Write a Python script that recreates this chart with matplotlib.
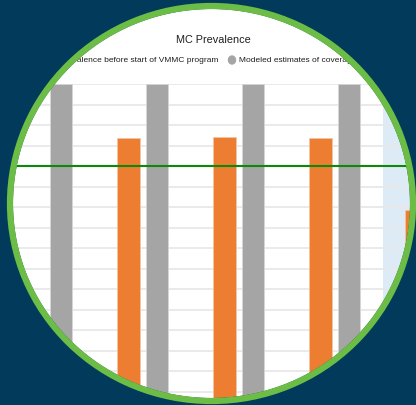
import numpy as np
import matplotlib
matplotlib.use("Agg")
import matplotlib.pyplot as plt
from matplotlib.patches import PathPatch, Ellipse
from matplotlib.path import Path

groups = ["A", "B", "C", "D", "E"]
mc_before_vmmc = [np.nan, 86.8, 87.1, 86.9, 69.3]
modeled_coverage = [100, 100, 100, 100, np.nan]
target = 80
shade_from = 3.5

title = "MC Prevalence"
legend_labels = ["MC prevalence before start of VMMC program",
                 "Modeled estimates of coverage in 2016"]

orange = "#ed7d31"
grey = "#a5a5a5"
navy = "#023a5c"
ring = "#6bbd46"

plt.rcParams['font.family'] = ['Liberation Sans', 'DejaVu Sans']

fig = plt.figure(figsize=(4.16, 4.06), dpi=100, facecolor="white")
W, H = 416, 406

# axes is larger than the visible area: the picture is a zoomed-in crop
ax = fig.add_axes([0, (H - 495) / H, 1, 410 / H])
x = np.arange(len(groups))
w = 0.234
off = 0.148
ax.bar(x - off, mc_before_vmmc, w, color=orange, edgecolor="#f6c2a0", linewidth=0.6, zorder=2)
ax.bar(x + off, modeled_coverage, w, color=grey, edgecolor="#d6d6d6", linewidth=0.6, zorder=2)
ax.axhline(target, color="#0a8a0a", lw=1.5, zorder=3)
ax.axvspan(shade_from, 10, color="#ddebf6", zorder=0.2, lw=0)

ax.set_xlim(-46.75 / 96, (W - 46.75) / 96)
ax.set_ylim(0, 100)
ax.set_yticks(np.arange(0, 101, 5))
ax.set_axisbelow(True)
ax.grid(axis="y", color="#e8e8e8", lw=1.3)
ax.tick_params(left=False, bottom=False, labelleft=False, labelbottom=False)
for s in ax.spines.values():
    s.set_visible(False)

# title + legend (legend runs past the circle, like the original)
fig.text(213 / W, 1 - 40 / H, title, ha="center", va="center", fontsize=7.8, color="#1e1e1e")
fig.text(218 / W, 1 - 61 / H, legend_labels[0], ha="right", va="center", fontsize=6, color="#1e1e1e")
fig.text(239 / W, 1 - 61 / H, legend_labels[1], ha="left", va="center", fontsize=6, color="#1e1e1e")
fig.patches.append(Ellipse((232 / 100, (H - 61) / 100), 0.07, 0.08, color=grey,
                           transform=fig.dpi_scale_trans))

# navy mask with a round hole, then the green ring
cx, cy = 2.115, (H - 204.5) / 100
rx, ry = 1.985, 1.945
t = np.linspace(0, 2 * np.pi, 600)[::-1]
rect = [(-1, -1), (6, -1), (6, 6), (-1, 6), (-1, -1)]
hole = list(zip(cx + rx * np.cos(t), cy + ry * np.sin(t)))
verts = rect + hole
codes = [Path.MOVETO] + [Path.LINETO] * 3 + [Path.CLOSEPOLY] + \
        [Path.MOVETO] + [Path.LINETO] * (len(hole) - 2) + [Path.CLOSEPOLY]
mask = PathPatch(Path(verts, codes), facecolor=navy, edgecolor="none",
                 transform=fig.dpi_scale_trans, zorder=10)
fig.patches.append(mask)
fig.patches.append(Ellipse((cx, cy), 2 * (rx + 0.03), 2 * (ry + 0.03), fill=False,
                           edgecolor=ring, lw=4.5, transform=fig.dpi_scale_trans, zorder=11))

fig.savefig("out.png", dpi=100, facecolor=fig.get_facecolor())
